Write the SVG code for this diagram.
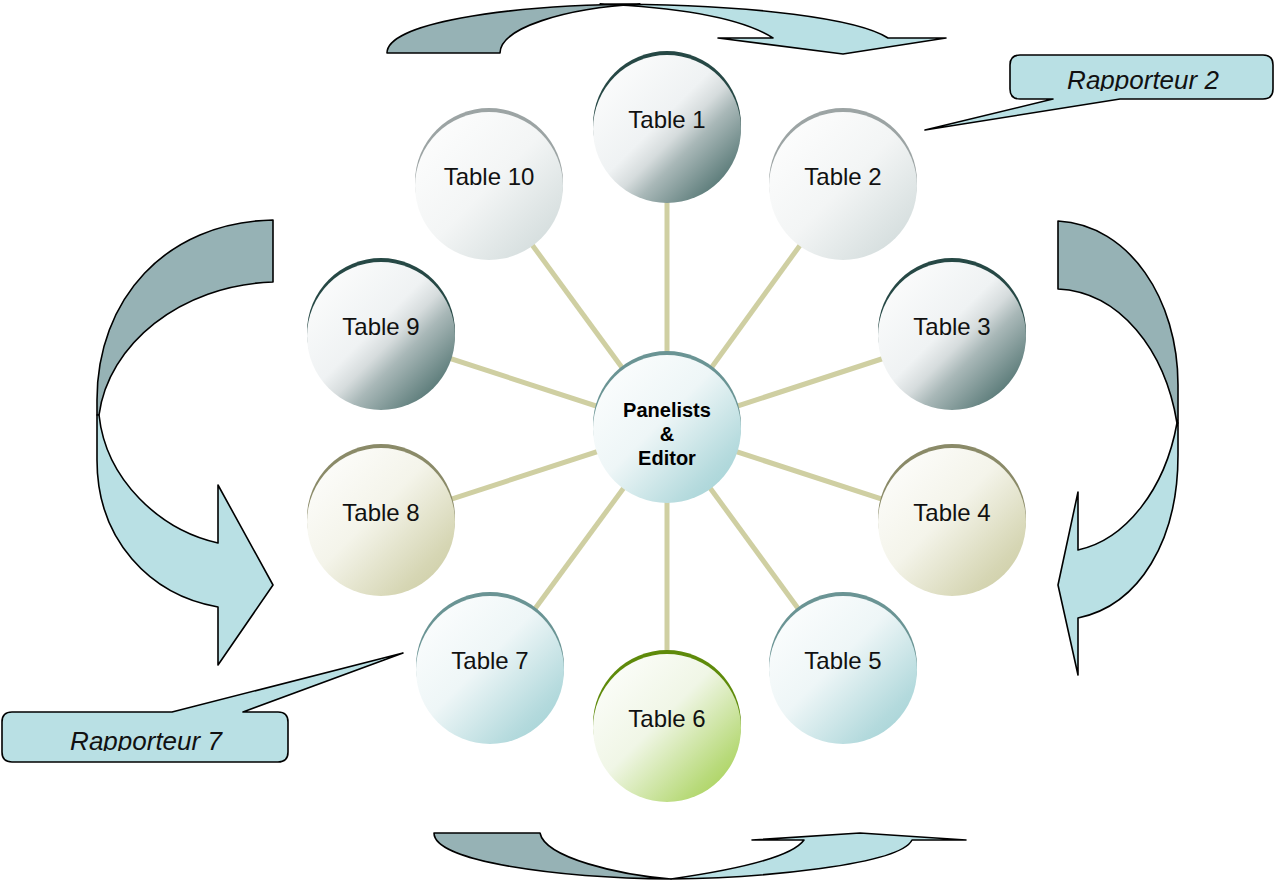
<svg xmlns="http://www.w3.org/2000/svg" width="1276" height="882" viewBox="0 0 1276 882">
<defs>
<style>
.arrow{stroke:#000;stroke-width:1.6;stroke-linejoin:round}
.dk{fill:#96B2B5}
.lt{fill:#B9E0E4}
.spoke{stroke:#CFCFA2;stroke-width:5;stroke-linecap:butt}
.lbl{font-family:"Liberation Sans",Arial,sans-serif;font-size:24px;fill:#111;text-anchor:middle}
.ctr{font-family:"Liberation Sans",Arial,sans-serif;font-size:20px;font-weight:bold;fill:#000;text-anchor:middle}
.rap{font-family:"Liberation Sans",Arial,sans-serif;font-size:26px;font-style:italic;fill:#111;text-anchor:middle}
</style>
<linearGradient id="gDark" x1="0" y1="0" x2="1" y2="1">
<stop offset="0" stop-color="#FFFFFF"/><stop offset="0.45" stop-color="#EFF2F3"/><stop offset="0.55" stop-color="#D6DCDD"/><stop offset="0.64" stop-color="#A9B8B8"/><stop offset="0.85" stop-color="#607F7D"/><stop offset="1" stop-color="#4A6A68"/>
</linearGradient>
<linearGradient id="gGray" x1="0" y1="0" x2="1" y2="1">
<stop offset="0" stop-color="#FFFFFF"/><stop offset="0.5" stop-color="#F3F5F5"/><stop offset="1" stop-color="#CBD6D6"/>
</linearGradient>
<linearGradient id="gKhaki" x1="0" y1="0" x2="1" y2="1">
<stop offset="0" stop-color="#FFFFFF"/><stop offset="0.45" stop-color="#F4F4EA"/><stop offset="0.8" stop-color="#D6D6B4"/><stop offset="1" stop-color="#C9C99E"/>
</linearGradient>
<linearGradient id="gTeal" x1="0" y1="0" x2="1" y2="1">
<stop offset="0" stop-color="#FFFFFF"/><stop offset="0.45" stop-color="#EEF6F7"/><stop offset="0.8" stop-color="#B4DADD"/><stop offset="1" stop-color="#9CCFD2"/>
</linearGradient>
<linearGradient id="gGreen" x1="0" y1="0" x2="1" y2="1">
<stop offset="0" stop-color="#FFFFFF"/><stop offset="0.45" stop-color="#F0F6E6"/><stop offset="0.8" stop-color="#B8DA7A"/><stop offset="1" stop-color="#A0CC44"/>
</linearGradient>
<clipPath id="clipR2"><rect x="1000" y="40" width="276" height="51"/></clipPath>
<clipPath id="clipR7"><rect x="0" y="700" width="300" height="51"/></clipPath>
</defs>
<rect width="1276" height="882" fill="#FFFFFF"/>

<g id="connectors">
<line class="spoke" x1="667" y1="429" x2="667" y2="129"/>
<line class="spoke" x1="667" y1="429" x2="843" y2="186"/>
<line class="spoke" x1="667" y1="429" x2="952" y2="336"/>
<line class="spoke" x1="667" y1="429" x2="952" y2="522"/>
<line class="spoke" x1="667" y1="429" x2="843" y2="670"/>
<line class="spoke" x1="667" y1="429" x2="667" y2="728"/>
<line class="spoke" x1="667" y1="429" x2="490" y2="670"/>
<line class="spoke" x1="667" y1="429" x2="381" y2="522"/>
<line class="spoke" x1="667" y1="429" x2="381" y2="336"/>
<line class="spoke" x1="667" y1="429" x2="489" y2="186"/>
</g>

<g id="arrow-top">
<path class="arrow dk" d="M387,53 C387,24 500,5 640,4 C565,8 500,28 500,53 Z"/>
<path class="arrow lt" d="M600,4 C760,4 860,20 888,38 L946,38 L843,54 L718,38 L773,38 C745,20 690,8 600,4 Z"/>
</g>
<g id="arrow-right">
<path class="arrow dk" d="M1058,221 C1130,225 1178,300 1178,385 L1178,423 L1177,423 C1165,350 1120,292 1058,289 Z"/>
<path class="arrow lt" d="M1177,423 C1165,490 1125,540 1078,550 L1078,492 L1058,585 L1078,675 L1078,618 C1140,605 1178,540 1178,455 L1178,423 Z"/>
</g>
<g id="arrow-bottom">
<path class="arrow dk" d="M434,833 L540,833 C545,858 620,875 671,879 C560,878 434,862 434,833 Z"/>
<path class="arrow lt" d="M671,879 C760,878 900,865 912,840 L966,840 L860,833 L752,840 L804,840 C790,860 720,872 671,879 Z"/>
</g>
<g id="arrow-left">
<path class="arrow dk" d="M273,220 C165,222 97,300 97,400 L97,415 L99,415 C108,345 180,285 273,282 Z"/>
<path class="arrow lt" d="M99,415 C106,480 160,530 218,543 L218,485 L273,585 L218,665 L218,607 C150,595 97,540 97,460 L97,415 Z"/>
</g>

<g id="center">
<circle cx="667" cy="425" r="74" fill="#6A9494"/>
<circle cx="667" cy="429" r="74" fill="url(#gTeal)"/>
<text class="ctr" x="667" y="417">Panelists</text>
<text class="ctr" x="667" y="441">&amp;</text>
<text class="ctr" x="667" y="465">Editor</text>
</g>
<g id="table1">
<circle cx="667" cy="125" r="74" fill="#264845"/>
<circle cx="667" cy="129" r="74" fill="url(#gDark)"/>
<text class="lbl" x="667" y="128">Table 1</text>
</g>
<g id="table2">
<circle cx="843" cy="182" r="74" fill="#9CA4A4"/>
<circle cx="843" cy="186" r="74" fill="url(#gGray)"/>
<text class="lbl" x="843" y="185">Table 2</text>
</g>
<g id="table3">
<circle cx="952" cy="332" r="74" fill="#264845"/>
<circle cx="952" cy="336" r="74" fill="url(#gDark)"/>
<text class="lbl" x="952" y="335">Table 3</text>
</g>
<g id="table4">
<circle cx="952" cy="518" r="74" fill="#8A8A68"/>
<circle cx="952" cy="522" r="74" fill="url(#gKhaki)"/>
<text class="lbl" x="952" y="521">Table 4</text>
</g>
<g id="table5">
<circle cx="843" cy="666" r="74" fill="#6A9494"/>
<circle cx="843" cy="670" r="74" fill="url(#gTeal)"/>
<text class="lbl" x="843" y="669">Table 5</text>
</g>
<g id="table6">
<circle cx="667" cy="724" r="74" fill="#5E8A0A"/>
<circle cx="667" cy="728" r="74" fill="url(#gGreen)"/>
<text class="lbl" x="667" y="727">Table 6</text>
</g>
<g id="table7">
<circle cx="490" cy="666" r="74" fill="#6A9494"/>
<circle cx="490" cy="670" r="74" fill="url(#gTeal)"/>
<text class="lbl" x="490" y="669">Table 7</text>
</g>
<g id="table8">
<circle cx="381" cy="518" r="74" fill="#8A8A68"/>
<circle cx="381" cy="522" r="74" fill="url(#gKhaki)"/>
<text class="lbl" x="381" y="521">Table 8</text>
</g>
<g id="table9">
<circle cx="381" cy="332" r="74" fill="#264845"/>
<circle cx="381" cy="336" r="74" fill="url(#gDark)"/>
<text class="lbl" x="381" y="335">Table 9</text>
</g>
<g id="table10">
<circle cx="489" cy="182" r="74" fill="#9CA4A4"/>
<circle cx="489" cy="186" r="74" fill="url(#gGray)"/>
<text class="lbl" x="489" y="185">Table 10</text>
</g>

<g id="rapporteur2">
<path class="arrow lt" d="M1020,55 L1263,55 Q1273,55 1273,65 L1273,89 Q1273,99 1263,99 L1120,99 L925,130 L1053,99 L1020,99 Q1010,99 1010,89 L1010,65 Q1010,55 1020,55 Z"/>
<text class="rap" x="1143" y="89" clip-path="url(#clipR2)">Rapporteur 2</text>
</g>
<g id="rapporteur7">
<path class="arrow lt" d="M12,712 L172,712 L403,653 L243,712 L278,712 Q288,712 288,722 L288,752 Q288,762 278,762 L12,762 Q2,762 2,752 L2,722 Q2,712 12,712 Z"/>
<text class="rap" x="146" y="750" clip-path="url(#clipR7)">Rapporteur 7</text>
</g>
</svg>
